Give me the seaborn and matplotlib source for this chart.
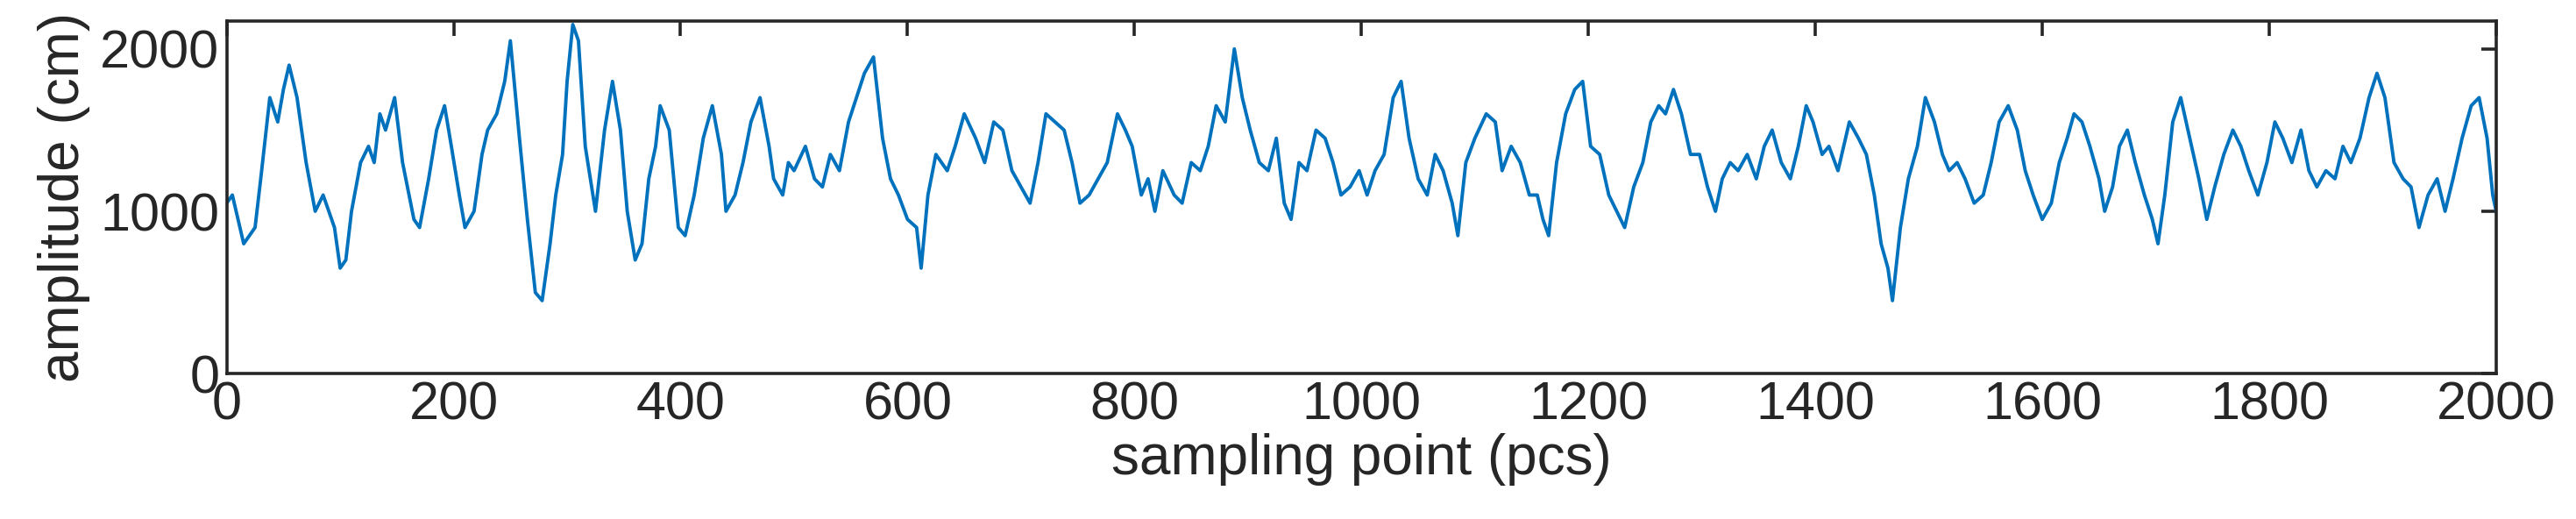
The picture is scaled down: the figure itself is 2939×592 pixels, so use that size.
import matplotlib
matplotlib.use("Agg")
import matplotlib.pyplot as plt
import seaborn as sns
import pandas as pd

# key points (sample index, amplitude in cm)
sample_idx = [0, 5, 15, 25, 30, 38, 45, 50, 55, 62, 70, 78, 85, 95, 100, 105, 110, 118, 125, 130,
              135, 140, 148, 155, 165, 170, 178, 185, 192, 198, 205, 210, 218, 225, 230, 238, 245, 250, 258, 265,
              272, 278, 285, 290, 296, 300, 305, 310, 316, 325, 333, 340, 347, 353, 360, 366, 372, 378, 382, 390,
              398, 404, 412, 420, 428, 436, 440, 448, 455, 462, 470, 478, 482, 490, 495, 500, 510, 518, 525, 532,
              540, 548, 555, 562, 570, 578, 585, 592, 600, 608, 612, 618, 625, 635, 642, 650, 660, 668, 676, 684,
              692, 700, 708, 715, 722, 730, 738, 745, 752, 760, 768, 776, 785, 792, 798, 806, 812, 818, 825, 835,
              842, 850, 858, 865, 872, 880, 888, 895, 902, 910, 918, 925, 932, 938, 945, 952, 960, 968, 975, 982,
              990, 998, 1005, 1012, 1020, 1028, 1035, 1042, 1050, 1058, 1065, 1072, 1080, 1085, 1092, 1100, 1110, 1118, 1124, 1132,
              1140, 1148, 1155, 1160, 1165, 1172, 1180, 1188, 1195, 1202, 1210, 1218, 1225, 1232, 1240, 1248, 1255, 1262, 1268, 1275,
              1282, 1290, 1298, 1305, 1312, 1318, 1325, 1332, 1340, 1348, 1355, 1362, 1370, 1378, 1385, 1392, 1398, 1406, 1412, 1420,
              1430, 1438, 1445, 1452, 1458, 1464, 1468, 1475, 1482, 1490, 1497, 1505, 1512, 1518, 1525, 1532, 1540, 1548, 1555, 1562,
              1570, 1578, 1585, 1592, 1600, 1608, 1615, 1622, 1628, 1635, 1642, 1650, 1655, 1662, 1668, 1675, 1682, 1690, 1697, 1702,
              1708, 1715, 1722, 1730, 1738, 1745, 1752, 1760, 1768, 1775, 1782, 1790, 1798, 1805, 1812, 1820, 1828, 1835, 1842, 1850,
              1858, 1865, 1872, 1880, 1888, 1895, 1902, 1910, 1918, 1925, 1932, 1940, 1948, 1955, 1962, 1970, 1978, 1985, 1992, 1997,
              2000]
amplitude = [1050, 1100, 800, 900, 1200, 1700, 1550, 1750, 1900, 1700, 1300, 1000, 1100, 900, 650, 700, 1000, 1300, 1400, 1300,
             1600, 1500, 1700, 1300, 950, 900, 1200, 1500, 1650, 1400, 1100, 900, 1000, 1350, 1500, 1600, 1800, 2050, 1450, 950,
             500, 450, 800, 1100, 1350, 1800, 2150, 2050, 1400, 1000, 1500, 1800, 1500, 1000, 700, 800, 1200, 1400, 1650, 1500,
             900, 850, 1100, 1450, 1650, 1350, 1000, 1100, 1300, 1550, 1700, 1400, 1200, 1100, 1300, 1250, 1400, 1200, 1150, 1350,
             1250, 1550, 1700, 1850, 1950, 1450, 1200, 1100, 950, 900, 650, 1100, 1350, 1250, 1400, 1600, 1450, 1300, 1550, 1500,
             1250, 1150, 1050, 1300, 1600, 1550, 1500, 1300, 1050, 1100, 1200, 1300, 1600, 1500, 1400, 1100, 1200, 1000, 1250, 1100,
             1050, 1300, 1250, 1400, 1650, 1550, 2000, 1700, 1500, 1300, 1250, 1450, 1050, 950, 1300, 1250, 1500, 1450, 1300, 1100,
             1150, 1250, 1100, 1250, 1350, 1700, 1800, 1450, 1200, 1100, 1350, 1250, 1050, 850, 1300, 1450, 1600, 1550, 1250, 1400,
             1300, 1100, 1100, 950, 850, 1300, 1600, 1750, 1800, 1400, 1350, 1100, 1000, 900, 1150, 1300, 1550, 1650, 1600, 1750,
             1600, 1350, 1350, 1150, 1000, 1200, 1300, 1250, 1350, 1200, 1400, 1500, 1300, 1200, 1400, 1650, 1550, 1350, 1400, 1250,
             1550, 1450, 1350, 1100, 800, 650, 450, 900, 1200, 1400, 1700, 1550, 1350, 1250, 1300, 1200, 1050, 1100, 1300, 1550,
             1650, 1500, 1250, 1100, 950, 1050, 1300, 1450, 1600, 1550, 1400, 1200, 1000, 1150, 1400, 1500, 1300, 1100, 950, 800,
             1100, 1550, 1700, 1450, 1200, 950, 1150, 1350, 1500, 1400, 1250, 1100, 1300, 1550, 1450, 1300, 1500, 1250, 1150, 1250,
             1200, 1400, 1300, 1450, 1700, 1850, 1700, 1300, 1200, 1150, 900, 1100, 1200, 1000, 1200, 1450, 1650, 1700, 1450, 1100,
             1000]

x_ticks = [0, 200, 400, 600, 800, 1000, 1200, 1400, 1600, 1800, 2000]
y_ticks = [0, 1000, 2000]

sns.set_style("white")
plt.rcParams['font.family'] = ['Liberation Sans', 'DejaVu Sans']

df = pd.DataFrame({'sample': sample_idx, 'amp': amplitude})

fig = plt.figure(figsize=(14.695, 2.96), dpi=200)
ax = fig.add_axes([0.088, 0.28, 0.881, 0.679])
sns.lineplot(data=df, x='sample', y='amp', ax=ax, color='#0072BD', linewidth=1.4)

ax.set_xlim(0, 2000)
ax.set_ylim(0, 2170)
ax.set_xticks(x_ticks)
ax.set_yticks(y_ticks)
ax.tick_params(direction='in', top=True, right=True, length=6, width=1.3,
               labelsize=22, colors='#262626', pad=3)
for s in ax.spines.values():
    s.set_linewidth(1.3)
    s.set_color('#262626')
ax.set_xlabel('sampling point (pcs)', fontsize=23, color='#262626', labelpad=1)
ax.set_ylabel('amplitude (cm)', fontsize=23, color='#262626', labelpad=4,
              family=['Liberation Sans Narrow', 'Liberation Sans', 'DejaVu Sans'])

fig.savefig('out.png', dpi=200)
